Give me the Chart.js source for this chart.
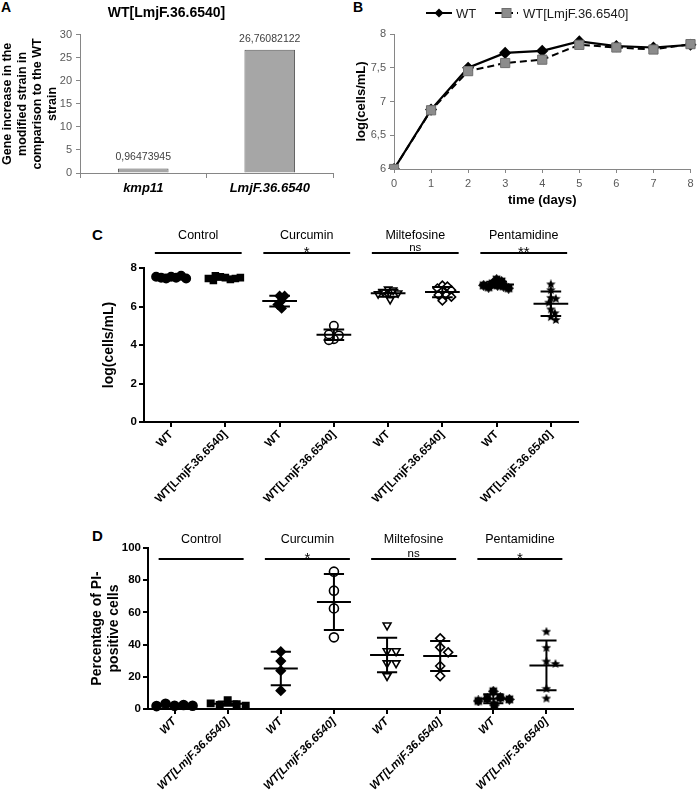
<!DOCTYPE html>
<html lang="en">
<head>
<meta charset="UTF-8">
<title>LmjF.36.6540 figure</title>
<script src="https://cdn.jsdelivr.net/npm/chart.js"></script>
<style>
    body { margin: 0; background: #fff; }
    #fig { position: relative; width: 698px; height: 798px; font-family: 'Liberation Sans', Arial, sans-serif; }
    #fig canvas { position: absolute; }
    .tag { position: absolute; font-weight: bold; color: #000; }
</style>
</head>
<body>
<div id="fig">
    <div class="tag" style="left:1px; top:-1px; font-size:14px;">A</div>
    <div class="tag" style="left:353px; top:-1px; font-size:14px;">B</div>
    <div class="tag" style="left:92px; top:226px; font-size:15px;">C</div>
    <div class="tag" style="left:92px; top:527px; font-size:15px;">D</div>
    <canvas id="chartA" width="349" height="220" style="left:0; top:0;"></canvas>
    <canvas id="chartB" width="349" height="220" style="left:349px; top:0;"></canvas>
    <canvas id="chartC" width="698" height="300" style="left:0; top:220px;"></canvas>
    <canvas id="chartD" width="698" height="278" style="left:0; top:520px;"></canvas>
</div>

<script>
// ---- data ----
// A: gene increase
const geneLabels = ["kmp11", "LmjF.36.6540"];
const geneIncrease = [0.96473945, 26.76082122];

// B: growth curve
const days = [0, 1, 2, 3, 4, 5, 6, 7, 8];
const growthWT = [6.0, 6.88, 7.5, 7.72, 7.75, 7.89, 7.82, 7.8, 7.84];
const growthLmj = [6.0, 6.87, 7.45, 7.57, 7.62, 7.84, 7.8, 7.77, 7.85];

// C / D: treatment groups
const strainLabels = ["WT", "WT[LmjF.36.6540]", "WT", "WT[LmjF.36.6540]",
                      "WT", "WT[LmjF.36.6540]", "WT", "WT[LmjF.36.6540]"];
const drugNames = ["Control", "Curcumin", "Miltefosine", "Pentamidine"];
const sigC = ["", "*", "ns", "**"];
const sigD = ["", "*", "ns", "*"];

const cellsC = [
    [7.55, 7.5, 7.45, 7.6, 7.5, 7.45, 7.55],
    [7.5, 7.4, 7.55, 7.45, 7.6, 7.35, 7.5, 7.45],
    [6.55, 6.55, 6.3, 6.1, 5.9],
    [5.0, 4.6, 4.5, 4.3, 4.25, 4.55],
    [6.9, 6.85, 6.75, 6.7, 6.65, 6.6, 6.35],
    [7.1, 7.05, 6.95, 6.85, 6.8, 6.6, 6.6, 6.5, 6.3],
    [7.4, 7.3, 7.2, 7.1, 7.05, 7.0, 6.95, 7.1],
    [7.15, 6.85, 6.45, 6.4, 6.2, 5.85, 5.65, 5.45, 5.3]
];
const piD = [
    [2, 2.5, 3.2, 2, 1.8],
    [5.5, 3, 2.5, 3.5, 2],
    [35.6, 29.8, 23.8, 11.4],
    [85.3, 73.5, 62.5, 44.5],
    [52, 36, 36, 28.5, 28.5, 20.5],
    [43.9, 38.3, 35.2, 26.7, 20.5],
    [11, 7, 6.5, 5, 2.5, 6],
    [48, 38, 29.5, 28, 12.5, 6.5]
];

// ---- helpers ----
const FONT = "'Liberation Sans', Arial, sans-serif";
Chart.defaults.font.family = FONT;
Chart.defaults.color = '#000';

function meanSd(v) {
    const m = v.reduce((a, b) => a + b, 0) / v.length;
    const s = Math.sqrt(v.reduce((a, b) => a + (b - m) * (b - m), 0) / (v.length - 1));
    return [m, s];
}

// spread equal-ish values sideways like a dot plot
function swarm(values, pxPerUnit, pxPerCat, dia) {
    const placed = [];
    return values.map(v => {
        const y = v * pxPerUnit;
        for (let k = 0; k < 400; k++) {
            const dx = k === 0 ? 0 : (k % 2 ? (k + 1) / 2 : -k / 2);
            if (placed.every(p => Math.hypot(p.x - dx, p.y - y) >= dia)) {
                placed.push({ x: dx, y: y });
                return dx / pxPerCat;
            }
        }
        return 0;
    });
}

function shapeCanvas(n, inner, size) {
    const c = document.createElement('canvas');
    c.width = c.height = size;
    const g = c.getContext('2d');
    const R = size / 2, r = R * inner;
    g.fillStyle = '#000';
    g.beginPath();
    for (let i = 0; i < 2 * n; i++) {
        const a = -Math.PI / 2 + i * Math.PI / n;
        const rr = i % 2 ? r : R;
        g.lineTo(R + rr * Math.cos(a), R + rr * Math.sin(a));
    }
    g.closePath();
    g.fill();
    return c;
}

const markers = [
    { pointStyle: 'circle', fill: '#000' },
    { pointStyle: 'rect', fill: '#000' },
    { pointStyle: 'rectRot', fill: '#000' },
    { pointStyle: 'circle', fill: '#fff' },
    { pointStyle: 'triangle', fill: '#fff', rotation: 180 },
    { pointStyle: 'rectRot', fill: '#fff' },
    { pointStyle: shapeCanvas(8, 0.72, 11) },
    { pointStyle: shapeCanvas(5, 0.45, 10) }
];

// ---- A: bar chart ----
const barValueLabels = {
    id: 'barValueLabels',
    afterDatasetsDraw(chart) {
        const ctx = chart.ctx;
        ctx.save();
        ctx.font = '10.5px ' + FONT;
        ctx.fillStyle = '#404040';
        ctx.textAlign = 'center';
        ctx.textBaseline = 'middle';
        chart.getDatasetMeta(0).data.forEach((bar, i) => {
            ctx.fillText(String(geneIncrease[i]).replace('.', ','), bar.x, bar.y - 11);
        });
        ctx.restore();
    }
};

new Chart(document.getElementById('chartA'), {
    type: 'bar',
    data: {
        labels: geneLabels,
        datasets: [{
            data: geneIncrease,
            backgroundColor: '#a6a6a6',
            borderColor: '#595959',
            borderWidth: 1,
            barPercentage: 0.5,
            categoryPercentage: 0.8
        }]
    },
    options: {
        responsive: false,
        animation: false,
        layout: { padding: { left: 0, right: 16, top: 0, bottom: 0 } },
        plugins: {
            legend: { display: false },
            tooltip: { enabled: false },
            title: {
                display: true,
                text: 'WT[LmjF.36.6540]',
                color: '#000',
                font: { size: 14, weight: 'bold' },
                padding: { top: 5, bottom: 13 }
            }
        },
        scales: {
            x: {
                grid: { drawOnChartArea: false, tickLength: 5, color: '#868686' },
                border: { color: '#868686' },
                ticks: { color: '#000', font: { size: 13, weight: 'bold', style: 'italic' }, padding: 3 },
                afterFit: s => { s.height = 47; }
            },
            y: {
                min: 0,
                max: 30,
                ticks: { stepSize: 5, color: '#595959', font: { size: 11 }, padding: 4 },
                grid: { drawOnChartArea: false, tickLength: 4, color: '#868686' },
                border: { color: '#868686' },
                title: {
                    display: true,
                    text: ['Gene increase in the', 'modified strain in', 'comparison to the WT', 'strain'],
                    color: '#000',
                    font: { size: 12.5, weight: 'bold', lineHeight: 1.2 },
                    padding: { top: 0, bottom: 0 }
                },
                afterFit: s => { s.width = 80; }
            }
        }
    },
    plugins: [barValueLabels]
});

// ---- B: growth curve ----
const growthLegend = {
    id: 'growthLegend',
    afterDraw(chart) {
        const ctx = chart.ctx;
        const y = 13;
        const ds = chart.data.datasets;
        ctx.save();
        ctx.strokeStyle = '#000';
        ctx.lineWidth = 2;
        ctx.beginPath(); ctx.moveTo(77, y); ctx.lineTo(103, y); ctx.stroke();
        ctx.fillStyle = '#000';
        ctx.beginPath();
        ctx.moveTo(90, y - 4.5); ctx.lineTo(94.5, y); ctx.lineTo(90, y + 4.5); ctx.lineTo(85.5, y);
        ctx.closePath(); ctx.fill();
        ctx.setLineDash([7, 4]);
        ctx.beginPath(); ctx.moveTo(146, y); ctx.lineTo(169, y); ctx.stroke();
        ctx.setLineDash([]);
        ctx.fillStyle = '#8c8c8c';
        ctx.strokeStyle = '#6e6e6e';
        ctx.lineWidth = 1;
        ctx.fillRect(153, y - 4.5, 9, 9);
        ctx.strokeRect(153, y - 4.5, 9, 9);
        ctx.fillStyle = '#1a1a1a';
        ctx.font = '13px ' + FONT;
        ctx.textBaseline = 'middle';
        ctx.fillText(ds[0].label, 107, y + 1);
        ctx.fillText(ds[1].label, 174, y + 1);
        ctx.restore();
    }
};

new Chart(document.getElementById('chartB'), {
    type: 'line',
    data: {
        labels: days,
        datasets: [{
            label: 'WT',
            data: growthWT,
            borderColor: '#000',
            borderWidth: 2.2,
            pointStyle: 'rectRot',
            pointRadius: 4.5,
            pointBackgroundColor: '#000',
            pointBorderColor: '#000',
            tension: 0,
            order: 1
        }, {
            label: 'WT[LmjF.36.6540]',
            data: growthLmj,
            borderColor: '#000',
            borderWidth: 2,
            borderDash: [7, 4],
            pointStyle: 'rect',
            pointRadius: 6.5,
            pointBackgroundColor: '#8c8c8c',
            pointBorderColor: '#6e6e6e',
            pointBorderWidth: 1,
            tension: 0,
            order: 0
        }]
    },
    options: {
        responsive: false,
        animation: false,
        layout: { padding: { left: 0, right: 5, top: 34, bottom: 0 } },
        plugins: { legend: { display: false }, tooltip: { enabled: false } },
        scales: {
            x: {
                grid: { drawOnChartArea: false, tickLength: 4, color: '#868686' },
                border: { color: '#868686' },
                ticks: { color: '#595959', font: { size: 11 }, padding: 4 },
                title: {
                    display: true, text: 'time (days)', color: '#000',
                    font: { size: 13, weight: 'bold' }, padding: { top: 0, bottom: 12 }
                },
                afterFit: s => { s.height = 51; }
            },
            y: {
                min: 6,
                max: 8,
                ticks: {
                    stepSize: 0.5, color: '#595959', font: { size: 11 }, padding: 4,
                    callback: v => String(v).replace('.', ',')
                },
                grid: { drawOnChartArea: false, tickLength: 4, color: '#868686' },
                border: { color: '#868686' },
                title: {
                    display: true, text: 'log(cells/mL)', color: '#000',
                    font: { size: 13, weight: 'bold' }, padding: { top: 5, bottom: 0 }
                },
                afterFit: s => { s.width = 45; }
            }
        }
    },
    plugins: [growthLegend]
});

// ---- C / D: dot plots ----
function dotPlot(id, groups, sig, cfg) {
    const datasets = groups.map((vals, g) => {
        const off = swarm(vals, cfg.pxPerUnit, cfg.pxPerCat, cfg.dia);
        const m = markers[g];
        return {
            data: vals.map((v, i) => ({ x: g + off[i], y: v })),
            pointStyle: m.pointStyle,
            pointRotation: m.rotation || 0,
            pointRadius: cfg.radius,
            backgroundColor: m.fill || '#000',
            borderColor: '#000',
            borderWidth: 1.6,
            clip: false
        };
    });

    const decor = {
        id: 'decor',
        afterDatasetsDraw(chart) {
            const { ctx, scales: { x, y } } = chart;
            ctx.save();
            ctx.strokeStyle = '#000';
            ctx.lineWidth = 2;
            groups.forEach((vals, i) => {
                const [m, s] = meanSd(vals);
                const cx = x.getPixelForValue(i);
                const hw = x.getPixelForValue(i + 0.32) - cx;
                const cw = x.getPixelForValue(i + 0.19) - cx;
                const yt = y.getPixelForValue(m + s);
                const yb = y.getPixelForValue(m - s);
                const ym = y.getPixelForValue(m);
                ctx.beginPath();
                ctx.moveTo(cx - hw, ym); ctx.lineTo(cx + hw, ym);
                ctx.moveTo(cx, yt); ctx.lineTo(cx, yb);
                ctx.moveTo(cx - cw, yt); ctx.lineTo(cx + cw, yt);
                ctx.moveTo(cx - cw, yb); ctx.lineTo(cx + cw, yb);
                ctx.stroke();
            });
            ctx.restore();
        },
        afterDraw(chart) {
            const { ctx, chartArea, scales: { x } } = chart;
            const lineY = chartArea.top + cfg.headLine;
            ctx.save();
            ctx.strokeStyle = '#000';
            ctx.fillStyle = '#000';
            ctx.lineWidth = 2;
            ctx.textAlign = 'center';
            drugNames.forEach((name, k) => {
                const x1 = x.getPixelForValue(2 * k - 0.3);
                const x2 = x.getPixelForValue(2 * k + 1.3);
                ctx.beginPath(); ctx.moveTo(x1, lineY); ctx.lineTo(x2, lineY); ctx.stroke();
                ctx.font = '12.5px ' + FONT;
                ctx.textBaseline = 'middle';
                ctx.fillText(name, (x1 + x2) / 2, lineY - cfg.headText);
                ctx.textBaseline = 'alphabetic';
                const s = sig[k];
                if (s.indexOf('*') >= 0) {
                    ctx.font = '15px ' + FONT;
                    ctx.fillText(s, (x1 + x2) / 2, lineY + 4);
                } else {
                    ctx.font = '11.5px ' + FONT;
                    ctx.fillText(s, (x1 + x2) / 2, lineY - 2);
                }
            });
            ctx.restore();
        }
    };

    new Chart(document.getElementById(id), {
        type: 'scatter',
        data: { datasets: datasets },
        options: {
            responsive: false,
            animation: false,
            layout: { padding: { left: 0, right: cfg.right, top: cfg.top, bottom: 0 } },
            plugins: { legend: { display: false }, tooltip: { enabled: false } },
            scales: {
                x: {
                    type: 'linear',
                    min: -0.5,
                    max: strainLabels.length - 0.5,
                    afterBuildTicks: s => { s.ticks = strainLabels.map((l, i) => ({ value: i })); },
                    ticks: {
                        autoSkip: false, minRotation: 45, maxRotation: 45, padding: 1,
                        color: '#000',
                        font: { size: 11.5, weight: 'bold', style: cfg.labelStyle },
                        callback: v => strainLabels[v]
                    },
                    grid: { drawOnChartArea: false, tickLength: 5, lineWidth: 2, color: '#000' },
                    border: { color: '#000', width: 2 },
                    afterFit: s => { s.height = cfg.xHeight; }
                },
                y: {
                    min: 0,
                    max: cfg.yMax,
                    ticks: { stepSize: cfg.yStep, color: '#000', font: { size: 11.5, weight: 'bold' }, padding: 2 },
                    grid: { drawOnChartArea: false, tickLength: 5, lineWidth: 2, color: '#000' },
                    border: { color: '#000', width: 2 },
                    title: {
                        display: true, text: cfg.yTitle, color: '#000',
                        font: { size: 14, weight: 'bold', lineHeight: 1.2 },
                        padding: { top: cfg.titlePad, bottom: 0 }
                    },
                    afterFit: s => { s.width = cfg.yWidth; }
                }
            }
        },
        plugins: [decor]
    });
}

dotPlot('chartC', cellsC, sigC, {
    pxPerUnit: 19.25, pxPerCat: 54.25, dia: 5, radius: 4.2,
    top: 48, right: 120, xHeight: 98, yWidth: 144,
    yMax: 8, yStep: 2, yTitle: 'log(cells/mL)', titlePad: 101,
    headLine: -15, headText: 17, labelStyle: 'normal'
});

dotPlot('chartD', piD, sigD, {
    pxPerUnit: 1.61, pxPerCat: 53.1, dia: 9, radius: 4.5,
    top: 28, right: 125, xHeight: 89, yWidth: 148,
    yMax: 100, yStep: 20, yTitle: ['Percentage of PI-', 'positive cells'], titlePad: 89,
    headLine: 11, headText: 19, labelStyle: 'italic'
});
</script>
</body>
</html>
